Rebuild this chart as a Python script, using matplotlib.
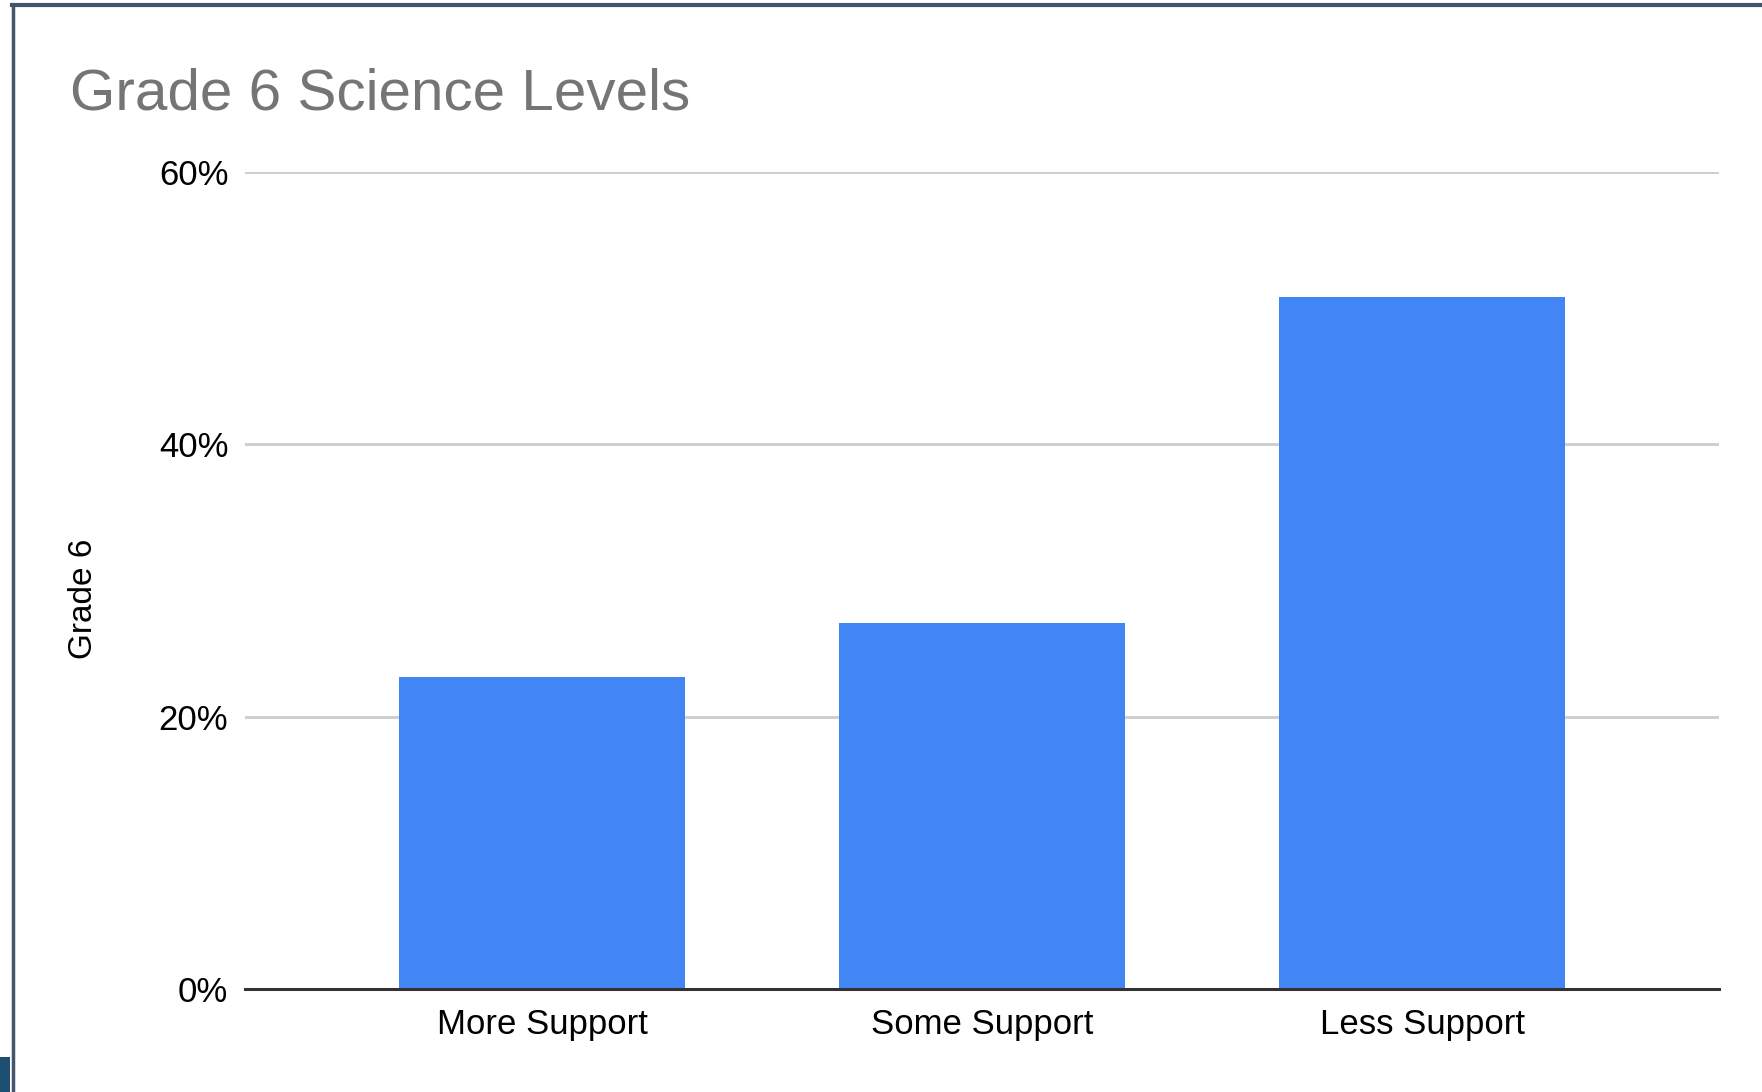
import matplotlib.pyplot as plt
from matplotlib.lines import Line2D
from matplotlib.patches import Rectangle
from matplotlib.ticker import FuncFormatter

plt.rcParams['font.family'] = ['Liberation Sans', 'DejaVu Sans']

# данные
categories = ['More Support', 'Some Support', 'Less Support']
values = [0.229, 0.269, 0.508]
y_ticks = [0, 0.2, 0.4, 0.6]

W, H = 1762, 1092
fig = plt.figure(figsize=(W / 100, H / 100), dpi=100)
ax = fig.add_axes([245 / W, 1 - 989 / H, (1719 - 245) / W, (989 - 172) / H])

ax.bar(range(len(categories)), values, width=0.65, color='#4285F4', zorder=3)

ax.set_xlim(-0.675, 2.675)
ax.set_ylim(0, 0.6)
ax.set_yticks(y_ticks)
ax.yaxis.set_major_formatter(FuncFormatter(lambda v, p: f"{v * 100:.0f}%"))
ax.set_xticks(range(len(categories)))
ax.set_xticklabels(categories)
ax.tick_params(axis='both', length=0, labelsize=25, colors='#000000')
ax.tick_params(axis='y', pad=12)
ax.tick_params(axis='x', pad=13.5)

ax.grid(axis='y', color='#cccccc', linewidth=2, zorder=0)
for s in ['top', 'right', 'left']:
    ax.spines[s].set_visible(False)
ax.spines['bottom'].set_color('#333333')
ax.spines['bottom'].set_linewidth(2.2)
ax.spines['bottom'].set_zorder(4)

ax.set_ylabel('Grade 6', fontsize=24, color='#000000')
ax.yaxis.set_label_coords(84 / W, 1 - 599 / H, transform=fig.transFigure)
ax.yaxis.label.set_verticalalignment('center')

fig.text(70 / W, 1 - 109 / H, 'Grade 6 Science Levels', fontsize=42,
         color='#757575', ha='left', va='baseline')

# рамка слайда
fig.add_artist(Line2D([12 / W, 1], [1 - 5 / H, 1 - 5 / H], transform=fig.transFigure,
                      color='#44546a', linewidth=3))
fig.add_artist(Line2D([12.5 / W, 12.5 / W], [0, 1 - 5 / H], transform=fig.transFigure,
                      color='#44546a', linewidth=2.5))
fig.add_artist(Rectangle((0, 0), 10 / W, 35 / H, transform=fig.transFigure,
                         color='#1d4f72', linewidth=0))

fig.savefig('out.png', dpi=100)
